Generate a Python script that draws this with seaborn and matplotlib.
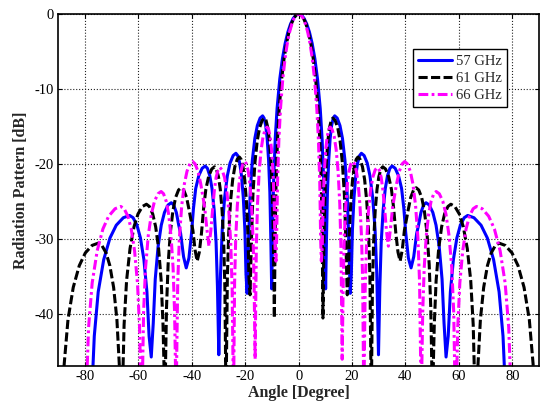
import numpy as np
import pandas as pd
import seaborn as sns
import matplotlib
matplotlib.use("Agg")
import matplotlib.pyplot as plt

# Half-plane radiation patterns (0..90 deg); the patterns are symmetric about broadside.
angle_57 = [0, 1.01, 2.02, 3.03, 4.04, 5.05, 6.06, 7.07, 8.08, 8.79, 9.39, 9.80, 10.1,
            10.44, 10.78, 11.26, 11.8, 12.34, 12.96, 13.5, 14.43, 15.47, 16.4, 17.33, 18.14, 18.72, 19.3,
            19.72, 20.14, 20.73, 21.4, 22.07, 22.83, 23.5, 24.52, 25.68, 26.7, 27.72, 28.62, 29.26, 29.9,
            30.41, 30.92, 31.63, 32.45, 33.27, 34.18, 35.0, 36.14, 37.41, 38.55, 39.4, 40.1, 41.1, 42.1,
            43.1, 44.2, 44.9, 45.8, 46.8, 47.7, 48.9, 50.25, 51.45, 52.65, 53.7, 54.45, 55.2,
            56.01, 56.82, 57.95, 59.25, 60.55, 62.0, 63.3, 65.65, 68.3, 70.65, 73.0, 75.06, 76.53, 78.0]
gain_57 = [0, -0.14, -0.58, -1.33, -2.42, -3.92, -5.94, -8.69, -12.62, -16.75, -22.5, -30.2, -36.7,
           -29.7, -23.8, -19.5, -16.6, -14.9, -13.9, -13.6, -13.9, -14.9, -16.6, -19.5, -23.8, -29.7, -37.3,
           -34.7, -28.8, -24.5, -21.6, -19.9, -18.9, -18.6, -18.9, -19.9, -21.6, -24.5, -28.8, -34.7, -45.5,
           -36.4, -30.5, -26.2, -23.3, -21.6, -20.6, -20.3, -20.6, -21.6, -23.3, -26.0, -29.2, -32.6, -33.9,
           -32.4, -29.3, -28.2, -26.5, -25.5, -25.2, -25.5, -26.5, -28.2, -31.1, -35.4, -41.3, -45.8,
           -43.0, -37.1, -32.8, -29.9, -28.2, -27.2, -26.9, -27.2, -28.2, -29.9, -32.8, -37.1, -43.0, -55.0]

angle_61 = [0, 0.91, 1.82, 2.73, 3.64, 4.55, 5.46, 6.37, 7.28, 7.92, 8.46, 8.83, 9.1,
            9.47, 9.84, 10.36, 10.95, 11.54, 12.21, 12.8, 13.66, 14.64, 15.5, 16.36, 17.12, 17.66, 18.2,
            18.6, 19.0, 19.56, 20.2, 20.84, 21.56, 22.2, 23.0, 23.9, 24.7, 25.5, 26.2, 26.7, 27.2,
            27.63, 28.06, 28.66, 29.35, 30.04, 30.81, 31.5, 32.54, 33.71, 34.75, 35.6, 36.4, 37.2, 38.0,
            38.8, 39.6, 41.0, 41.96, 43.04, 44.0, 44.98, 46.07, 47.05, 48.03, 48.88, 49.49, 50.1,
            50.79, 51.48, 52.45, 53.55, 54.65, 55.9, 57.0, 58.49, 60.16, 61.65, 63.14, 64.44, 65.37, 66.3,
            67.18, 68.06, 69.29, 70.7, 72.11, 73.69, 75.1, 77.36, 79.89, 82.15, 84.41, 86.38, 87.79, 89.2]
gain_61 = [0, -0.14, -0.58, -1.33, -2.42, -3.92, -5.94, -8.69, -12.62, -16.75, -22.5, -30.2, -40.6,
           -30.0, -24.1, -19.8, -16.9, -15.2, -14.2, -13.9, -14.2, -15.2, -16.9, -19.8, -24.1, -30.0, -37.5,
           -35.2, -29.3, -25.0, -22.1, -20.4, -19.4, -19.1, -19.4, -20.4, -22.1, -25.0, -29.3, -35.2, -52.0,
           -36.5, -30.6, -26.3, -23.4, -21.7, -20.7, -20.4, -20.7, -21.7, -23.4, -26.0, -29.3, -31.8, -33.0,
           -31.5, -28.9, -26.2, -24.5, -23.5, -23.2, -23.5, -24.5, -26.2, -29.1, -33.4, -39.3, -52.0,
           -41.5, -35.6, -31.3, -28.4, -26.7, -25.7, -25.4, -25.7, -26.7, -28.4, -31.3, -35.6, -41.5, -55.0,
           -46.7, -40.8, -36.5, -33.6, -31.9, -30.9, -30.6, -30.9, -31.9, -33.6, -36.5, -40.8, -46.7, -55.0]

angle_66 = [0, 0.85, 1.7, 2.55, 3.4, 4.25, 5.1, 5.95, 6.8, 7.4, 7.91, 8.25, 8.5,
            8.83, 9.16, 9.62, 10.15, 10.68, 11.27, 11.8, 12.52, 13.33, 14.05, 14.77, 15.4, 15.85, 16.3,
            16.69, 17.08, 17.63, 18.25, 18.87, 19.58, 20.2, 20.87, 21.63, 22.3, 22.97, 23.56, 23.98, 24.4,
            24.91, 25.42, 26.13, 26.95, 27.77, 28.68, 29.5, 30.15, 30.9, 31.55, 32.2, 32.9, 33.6,
            34.4, 35.2, 36.65, 37.7, 38.8, 39.7, 40.69, 41.81, 42.8, 43.79, 44.66, 45.28, 45.9,
            46.46, 47.02, 47.8, 48.7, 49.6, 50.6, 51.5, 52.67, 53.98, 55.15, 56.32, 57.34, 58.07, 58.8,
            59.58, 60.36, 61.45, 62.7, 63.95, 65.35, 66.6, 68.74, 71.16, 73.3, 75.44, 77.32, 78.66, 80.0]
gain_66 = [0, -0.14, -0.58, -1.33, -2.42, -3.92, -5.94, -8.69, -12.62, -16.75, -22.5, -30.2, -33.0,
           -31.2, -25.3, -21.0, -18.1, -16.4, -15.4, -15.1, -15.4, -16.4, -18.1, -21.0, -25.3, -31.2, -46.1,
           -35.8, -29.9, -25.6, -22.7, -21.0, -20.0, -19.7, -20.0, -21.0, -22.7, -25.6, -29.9, -35.8, -52.0,
           -36.6, -30.7, -26.4, -23.5, -21.8, -20.8, -20.5, -20.8, -21.8, -23.5, -26.0, -29.0, -31.0,
           -28.6, -25.8, -22.7, -21.0, -20.0, -19.7, -20.0, -21.0, -22.7, -25.6, -29.9, -35.8, -52.0,
           -39.8, -33.9, -29.6, -26.7, -25.0, -24.0, -23.7, -24.0, -25.0, -26.7, -29.6, -33.9, -39.8, -55.0,
           -41.8, -35.9, -31.6, -28.7, -27.0, -26.0, -25.7, -26.0, -27.0, -28.7, -31.6, -35.9, -41.8, -55.0]

labels = ["57 GHz", "61 GHz", "66 GHz"]
x_ticks = [-80, -60, -40, -20, 0, 20, 40, 60, 80]
y_ticks = [-40, -30, -20, -10, 0]


def full_pattern(half_angle, half_gain):
    """Extend a 0..90 deg half pattern to -90..90 deg by symmetry."""
    a = np.asarray(half_angle, dtype=float)
    g = np.asarray(half_gain, dtype=float)
    return np.concatenate([-a[:0:-1], a]), np.concatenate([g[:0:-1], g])


sns.set_style("white")
plt.rcParams["font.family"] = ["Liberation Serif", "DejaVu Serif"]
plt.rcParams["axes.unicode_minus"] = False

fig = plt.figure(figsize=(5.43, 4.03), dpi=100)
ax = fig.add_axes([0.1074, 0.0918, 0.8852, 0.8735])

styles = [
    (angle_57, gain_57, "#0000FF", None),
    (angle_61, gain_61, "#000000", (3.0, 1.1)),
    (angle_66, gain_66, "#FF00FF", (3.2, 1.1, 0.9, 1.1)),
]

for label, (ang, gn, color, dash) in zip(labels, styles):
    x, y = full_pattern(ang, gn)
    df = pd.DataFrame({"Angle": x, "Gain": y})
    sns.lineplot(data=df, x="Angle", y="Gain", ax=ax, color=color, lw=2.2,
                 label=label, sort=False, estimator=None)
    line = ax.lines[-1]
    if dash is not None:
        line.set_dashes(dash)
    line.set_dash_capstyle("butt")
    line.set_solid_joinstyle("round")

ax.set_xlim(-90, 90)
ax.set_ylim(-47, 0)
ax.set_xticks(x_ticks)
ax.set_yticks(y_ticks)
ax.grid(True, color="#222222", linestyle=":", linewidth=0.8)

for sp in ax.spines.values():
    sp.set_color("black")
    sp.set_linewidth(1.2)

ax.tick_params(direction="in", length=3, width=0.8, labelsize=10.5, pad=3,
               bottom=True, left=True, top=True, right=True, colors="black")

ax.set_xlabel("Angle [Degree]", fontsize=11.5, fontweight="bold", labelpad=1)
ax.set_ylabel("Radiation Pattern [dB]", fontsize=11.5, fontweight="bold", labelpad=4)

leg = ax.legend(loc="upper left", bbox_to_anchor=(0.7385, 0.8997), fontsize=10.5,
                frameon=True, fancybox=False, edgecolor="black", framealpha=1,
                handlelength=2.3, handletextpad=0.3, borderpad=0.35,
                labelspacing=0.28, borderaxespad=0)
leg.get_frame().set_linewidth(1.0)

fig.savefig("out.png", dpi=100)
